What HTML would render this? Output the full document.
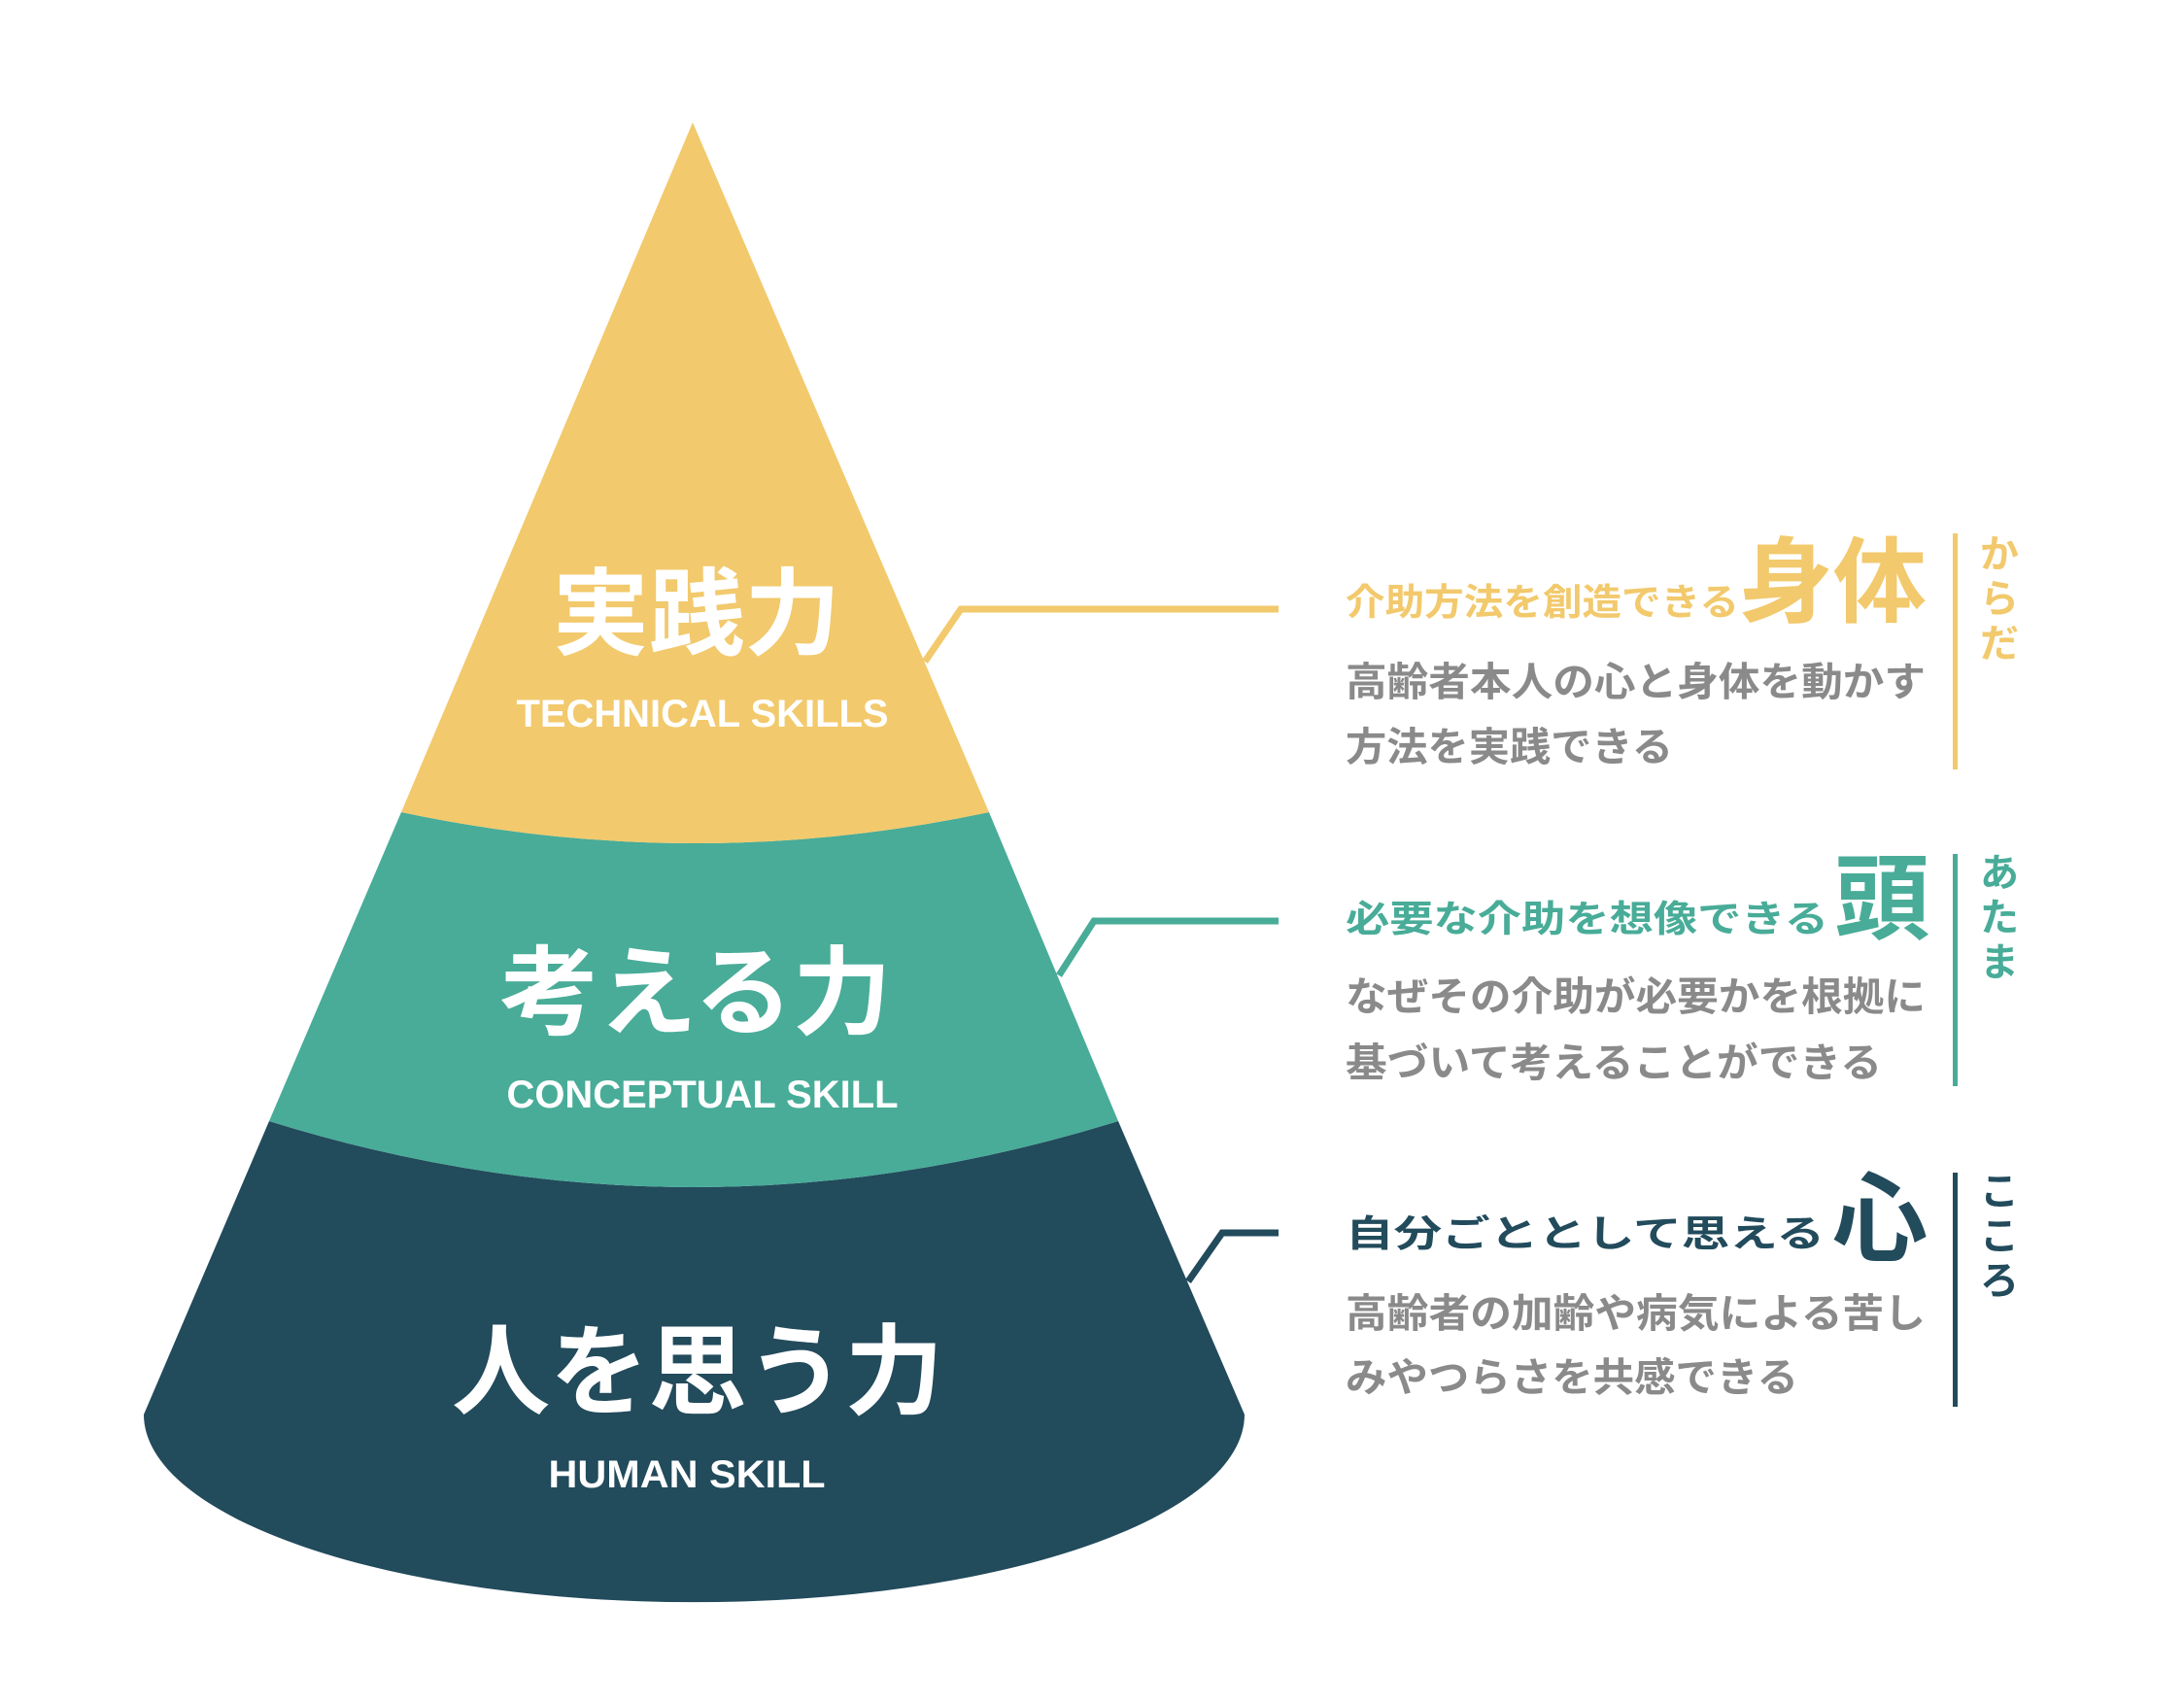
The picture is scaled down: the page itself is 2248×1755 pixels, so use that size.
<!DOCTYPE html>
<html><head><meta charset="utf-8"><style>
html,body{margin:0;padding:0;background:#fff;}
svg{display:block;}
text{font-family:"Liberation Sans","Noto Sans CJK JP",sans-serif;font-weight:bold;}
</style></head><body>
<svg width="2248" height="1755" viewBox="0 0 2248 1755" xmlns="http://www.w3.org/2000/svg">
<path d="M277,1154 Q714,1290 1151,1154 L1281,1456 A566,193 0 0 1 148,1456 Z" fill="#224B5C"/>
<path d="M413,836 Q715,900 1018,836 L1151,1154 Q714,1290 277,1154 Z" fill="#48AC98"/>
<path d="M713,126 L1018,836 Q715,900 413,836 Z" fill="#F2C96C"/>

<g fill="#fff">
<text x="717" y="666" font-size="98" text-anchor="middle" textLength="296" lengthAdjust="spacingAndGlyphs">実践力</text>
<text x="723" y="748" font-size="40" text-anchor="middle" textLength="383" lengthAdjust="spacingAndGlyphs">TECHNICAL SKILLS</text>
<text x="716" y="1057" font-size="100" text-anchor="middle" textLength="403" lengthAdjust="spacingAndGlyphs">考える力</text>
<text x="723" y="1140" font-size="40" text-anchor="middle" textLength="403" lengthAdjust="spacingAndGlyphs">CONCEPTUAL SKILL</text>
<text x="718" y="1448" font-size="102" text-anchor="middle" textLength="506" lengthAdjust="spacingAndGlyphs">人を思う力</text>
<text x="707" y="1531" font-size="40" text-anchor="middle" textLength="285" lengthAdjust="spacingAndGlyphs">HUMAN SKILL</text>
</g>

<g fill="none" stroke-width="7">
<polyline points="952,681 989,627 1316,627" stroke="#F2C96C"/>
<polyline points="1090,1004 1126,948 1316,948" stroke="#48AC98"/>
<polyline points="1223,1319 1258,1269 1316,1269" stroke="#224B5C"/>
</g>
<rect x="2010" y="549" width="5" height="243" fill="#F2C96C"/>
<rect x="2010" y="879" width="5" height="239" fill="#48AC98"/>
<rect x="2010" y="1207" width="5" height="241" fill="#224B5C"/>

<text x="1385" y="633" font-size="38" fill="#F2C96C" textLength="405" lengthAdjust="spacingAndGlyphs">介助方法を創造できる</text>
<text x="1790" y="633" font-size="96" fill="#F2C96C" textLength="193" lengthAdjust="spacingAndGlyphs">身体</text>
<text x="1385" y="716" font-size="41" fill="#8a8a8a" textLength="597" lengthAdjust="spacingAndGlyphs">高齢者本人の心と身体を動かす</text>
<text x="1385" y="783" font-size="41" fill="#8a8a8a" textLength="337" lengthAdjust="spacingAndGlyphs">方法を実践できる</text>
<g font-size="40" fill="#F2C96C" text-anchor="middle">
<text x="2058" y="584">か</text><text x="2058" y="630">ら</text><text x="2058" y="676">だ</text>
</g>

<text x="1385" y="959" font-size="38" fill="#48AC98" textLength="497" lengthAdjust="spacingAndGlyphs">必要な介助を想像できる</text>
<text x="1888" y="959" font-size="96" fill="#48AC98" textLength="98" lengthAdjust="spacingAndGlyphs">頭</text>
<text x="1385" y="1040" font-size="41" fill="#8a8a8a" textLength="597" lengthAdjust="spacingAndGlyphs">なぜその介助が必要かを根拠に</text>
<text x="1385" y="1108" font-size="41" fill="#8a8a8a" textLength="552" lengthAdjust="spacingAndGlyphs">基づいて考えることができる</text>
<g font-size="40" fill="#48AC98" text-anchor="middle">
<text x="2058" y="912">あ</text><text x="2058" y="958">た</text><text x="2058" y="1004">ま</text>
</g>

<text x="1385" y="1283" font-size="38" fill="#224B5C" textLength="493" lengthAdjust="spacingAndGlyphs">自分ごととして思える</text>
<text x="1886" y="1290" font-size="100" fill="#224B5C" textLength="98" lengthAdjust="spacingAndGlyphs">心</text>
<text x="1385" y="1366" font-size="41" fill="#8a8a8a" textLength="597" lengthAdjust="spacingAndGlyphs">高齢者の加齢や病気による苦し</text>
<text x="1385" y="1432" font-size="41" fill="#8a8a8a" textLength="466" lengthAdjust="spacingAndGlyphs">みやつらさを共感できる</text>
<g font-size="40" fill="#224B5C" text-anchor="middle">
<text x="2058" y="1240">こ</text><text x="2058" y="1286">こ</text><text x="2058" y="1332">ろ</text>
</g>
</svg>
</body></html>
